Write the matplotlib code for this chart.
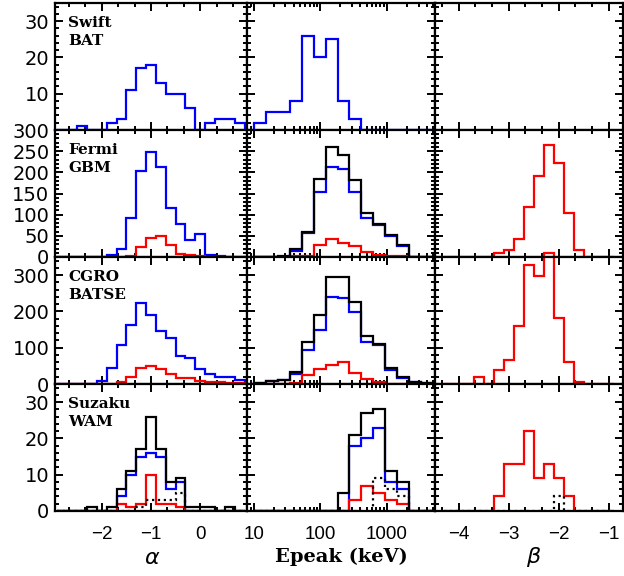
import numpy as np
import matplotlib
matplotlib.use("Agg")
import matplotlib.pyplot as plt
from matplotlib.ticker import MultipleLocator, FixedLocator, NullFormatter, LogLocator, FuncFormatter

# ---------------- data ----------------
# alpha bins: centres -2.8 ... 0.8 (width 0.2)
alpha_edges = np.round(np.arange(-2.9, 0.95, 0.2), 1)
swift_alpha_blue = [0, 0, 1, 0, 0, 2, 3, 11, 17, 18, 13, 10, 10, 6, 0, 2, 3, 3, 2]
fermi_alpha_blue = [0, 0, 0, 0, 1, 4, 20, 92, 203, 247, 212, 116, 78, 40, 55, 5, 3, 0, 0]
fermi_alpha_red = [0, 0, 0, 0, 0, 0, 0, 2, 24, 45, 49, 28, 6, 4, 2, 0, 0, 0, 0]
batse_alpha_blue = [0, 0, 0, 0, 9, 44, 107, 162, 222, 190, 147, 128, 78, 72, 41, 28, 20, 20, 11]
batse_alpha_red = [0, 0, 0, 0, 0, 0, 5, 20, 43, 49, 41, 28, 17, 17, 9, 6, 6, 4, 4]
suzaku_alpha_black = [0, 0, 0, 1, 0, 1, 6, 11, 17, 26, 17, 8, 9, 1, 1, 1, 0, 1, 0]
suzaku_alpha_blue = [0, 0, 0, 0, 0, 0, 4, 10, 15, 16, 15, 6, 8, 0, 0, 0, 0, 0, 0]
suzaku_alpha_red = [0, 0, 0, 0, 0, 0, 2, 1, 2, 10, 2, 2, 1, 0, 0, 0, 0, 0, 0]
suzaku_alpha_dot = [0, 0, 0, 0, 0, 0, 0, 0, 1, 3, 3, 3, 5, 0, 0, 0, 0, 0, 0]

# Epeak bins: log10 edges 1.0, 1.18, 1.36, ...
epeak_edges = 10 ** (1.0 + 0.18 * np.arange(16))
swift_ep_blue = [2, 5, 5, 8, 26, 20, 25, 8, 3, 0, 0, 0, 0, 0, 0]
fermi_ep_black = [0, 0, 2, 20, 59, 185, 260, 240, 183, 105, 78, 51, 28, 0, 0]
fermi_ep_blue = [0, 0, 1, 15, 57, 154, 213, 207, 154, 92, 75, 50, 27, 0, 0]
fermi_ep_red = [0, 0, 0, 2, 2, 28, 43, 33, 27, 12, 5, 2, 2, 0, 0]
batse_ep_black = [2, 9, 12, 33, 117, 191, 294, 294, 225, 133, 110, 44, 18, 5, 3]
batse_ep_blue = [2, 8, 10, 28, 93, 150, 241, 237, 198, 116, 108, 39, 17, 5, 3]
batse_ep_red = [0, 0, 0, 3, 26, 41, 53, 60, 30, 15, 5, 0, 0, 0, 0]
suzaku_ep_black = [0, 0, 0, 0, 0, 0, 0, 5, 21, 27, 28, 11, 8, 0, 0]
suzaku_ep_blue = [0, 0, 0, 0, 0, 0, 0, 0, 18, 20, 23, 8, 6, 0, 0]
suzaku_ep_red = [0, 0, 0, 0, 0, 0, 0, 0, 3, 7, 5, 3, 2, 0, 0]
suzaku_ep_dot = [0, 0, 0, 0, 0, 0, 0, 0, 0, 0, 9, 6, 4, 0, 0]

# beta bins: centres -4.2 ... -1.0 (width 0.2)
beta_edges = np.round(np.arange(-4.3, -0.85, 0.2), 1)
fermi_beta_red = [0, 0, 0, 0, 0, 10, 17, 43, 117, 192, 265, 222, 104, 17, 0, 0, 0]
batse_beta_red = [0, 0, 0, 18, 0, 39, 67, 159, 327, 298, 362, 182, 60, 5, 0, 0, 0]
suzaku_beta_red = [0, 0, 0, 0, 0, 4, 13, 13, 22, 9, 13, 9, 4, 0, 0, 0, 0]
suzaku_beta_dot = [0, 0, 0, 0, 0, 0, 0, 0, 0, 0, 0, 4, 0, 0, 0, 0, 0]

instrument_labels = ["Swift\nBAT", "Fermi\nGBM", "CGRO\nBATSE", "Suzaku\nWAM"]
row_ylims = [35, 300, 350, 35]
row_yticks = [[10, 20, 30], [0, 50, 100, 150, 200, 250, 300], [0, 100, 200, 300], [0, 10, 20, 30]]
row_yminor = [2, 10, 20, 2]

BLUE = "#0000ff"
RED = "#ff0000"
BLACK = "#000000"
LW = 1.6
SERIF = 'DejaVu Serif'

# ---------------- figure ----------------
W, H = 624, 576
fig = plt.figure(figsize=(W / 100, H / 100), dpi=100)
gs = fig.add_gridspec(4, 3, left=55 / W, right=622.5 / W, top=1 - 3 / H, bottom=1 - 511 / H,
                      wspace=0, hspace=0, width_ratios=[192, 188, 187.5])
axes = [[fig.add_subplot(gs[r, c]) for c in range(3)] for r in range(4)]

panels = {
    (0, 0): [(alpha_edges, swift_alpha_blue, BLUE, '-')],
    (0, 1): [(epeak_edges, swift_ep_blue, BLUE, '-')],
    (0, 2): [],
    (1, 0): [(alpha_edges, fermi_alpha_blue, BLUE, '-'), (alpha_edges, fermi_alpha_red, RED, '-')],
    (1, 1): [(epeak_edges, fermi_ep_blue, BLUE, '-'), (epeak_edges, fermi_ep_red, RED, '-'),
             (epeak_edges, fermi_ep_black, BLACK, '-')],
    (1, 2): [(beta_edges, fermi_beta_red, RED, '-')],
    (2, 0): [(alpha_edges, batse_alpha_blue, BLUE, '-'), (alpha_edges, batse_alpha_red, RED, '-')],
    (2, 1): [(epeak_edges, batse_ep_blue, BLUE, '-'), (epeak_edges, batse_ep_red, RED, '-'),
             (epeak_edges, batse_ep_black, BLACK, '-')],
    (2, 2): [(beta_edges, batse_beta_red, RED, '-')],
    (3, 0): [(alpha_edges, suzaku_alpha_blue, BLUE, '-'), (alpha_edges, suzaku_alpha_red, RED, '-'),
             (alpha_edges, suzaku_alpha_black, BLACK, '-'), (alpha_edges, suzaku_alpha_dot, BLACK, ':')],
    (3, 1): [(epeak_edges, suzaku_ep_blue, BLUE, '-'), (epeak_edges, suzaku_ep_red, RED, '-'),
             (epeak_edges, suzaku_ep_black, BLACK, '-'), (epeak_edges, suzaku_ep_dot, BLACK, ':')],
    (3, 2): [(beta_edges, suzaku_beta_red, RED, '-'), (beta_edges, suzaku_beta_dot, BLACK, ':')],
}

for r in range(4):
    for c in range(3):
        ax = axes[r][c]
        for edges, vals, col, ls in panels[(r, c)]:
            st = ax.stairs(vals, edges, color=col, linewidth=LW, linestyle=ls, zorder=2)
            if (r, c) == (2, 2):
                st.set_clip_on(False)
        if c == 0:
            ax.set_xlim(-2.95, 0.95)
            ax.xaxis.set_major_locator(FixedLocator([-2, -1, 0]))
            ax.xaxis.set_minor_locator(MultipleLocator(1 / 3))
        elif c == 1:
            ax.set_xscale('log')
            ax.set_xlim(10 ** 0.9, 10 ** 3.725)
            ax.xaxis.set_major_locator(FixedLocator([10, 100, 1000]))
            ax.xaxis.set_minor_locator(LogLocator(base=10, subs=np.arange(2, 10)))
            ax.xaxis.set_minor_formatter(NullFormatter())
            ax.xaxis.set_major_formatter(FuncFormatter(lambda v, p: f"{int(round(v))}"))
        else:
            ax.set_xlim(-4.47, -0.72)
            ax.xaxis.set_major_locator(FixedLocator([-4, -3, -2, -1]))
            ax.xaxis.set_minor_locator(MultipleLocator(1 / 3))
        ax.set_ylim(0, row_ylims[r])
        ax.yaxis.set_major_locator(FixedLocator(row_yticks[r]))
        ax.yaxis.set_minor_locator(MultipleLocator(row_yminor[r]))
        ax.tick_params(which='both', direction='in', top=True, right=True, width=1.4,
                       labelbottom=(r == 3), labelleft=(c == 0))
        ax.tick_params(which='major', length=6)
        ax.tick_params(which='minor', length=3)
        ax.tick_params(axis='y', labelsize=14, pad=4)
        ax.tick_params(axis='x', labelsize=13.5, pad=11)
        for s in ax.spines.values():
            s.set_linewidth(1.6)
            s.set_zorder(3)
        if c == 0:
            ax.text(0.068, 0.895, instrument_labels[r], transform=ax.transAxes, ha='left', va='top',
                    fontfamily=SERIF, fontweight='bold', fontsize=11, linespacing=1.35)

for c in range(3):
    for lab in axes[3][c].get_xticklabels():
        lab.set_fontfamily('Liberation Sans')

fig.text(152 / W, 1 - 558 / H, 'α', ha='center', va='center', fontsize=16,
         fontfamily='DejaVu Sans', fontstyle='italic')
fig.text(341 / W, 1 - 557 / H, 'Epeak (keV)', ha='center', va='center', fontsize=14,
         fontfamily=SERIF, fontweight='bold')
fig.text(533 / W, 1 - 557 / H, 'β', ha='center', va='center', fontsize=16,
         fontfamily='DejaVu Sans', fontstyle='italic')

fig.savefig('out.png', dpi=100)
